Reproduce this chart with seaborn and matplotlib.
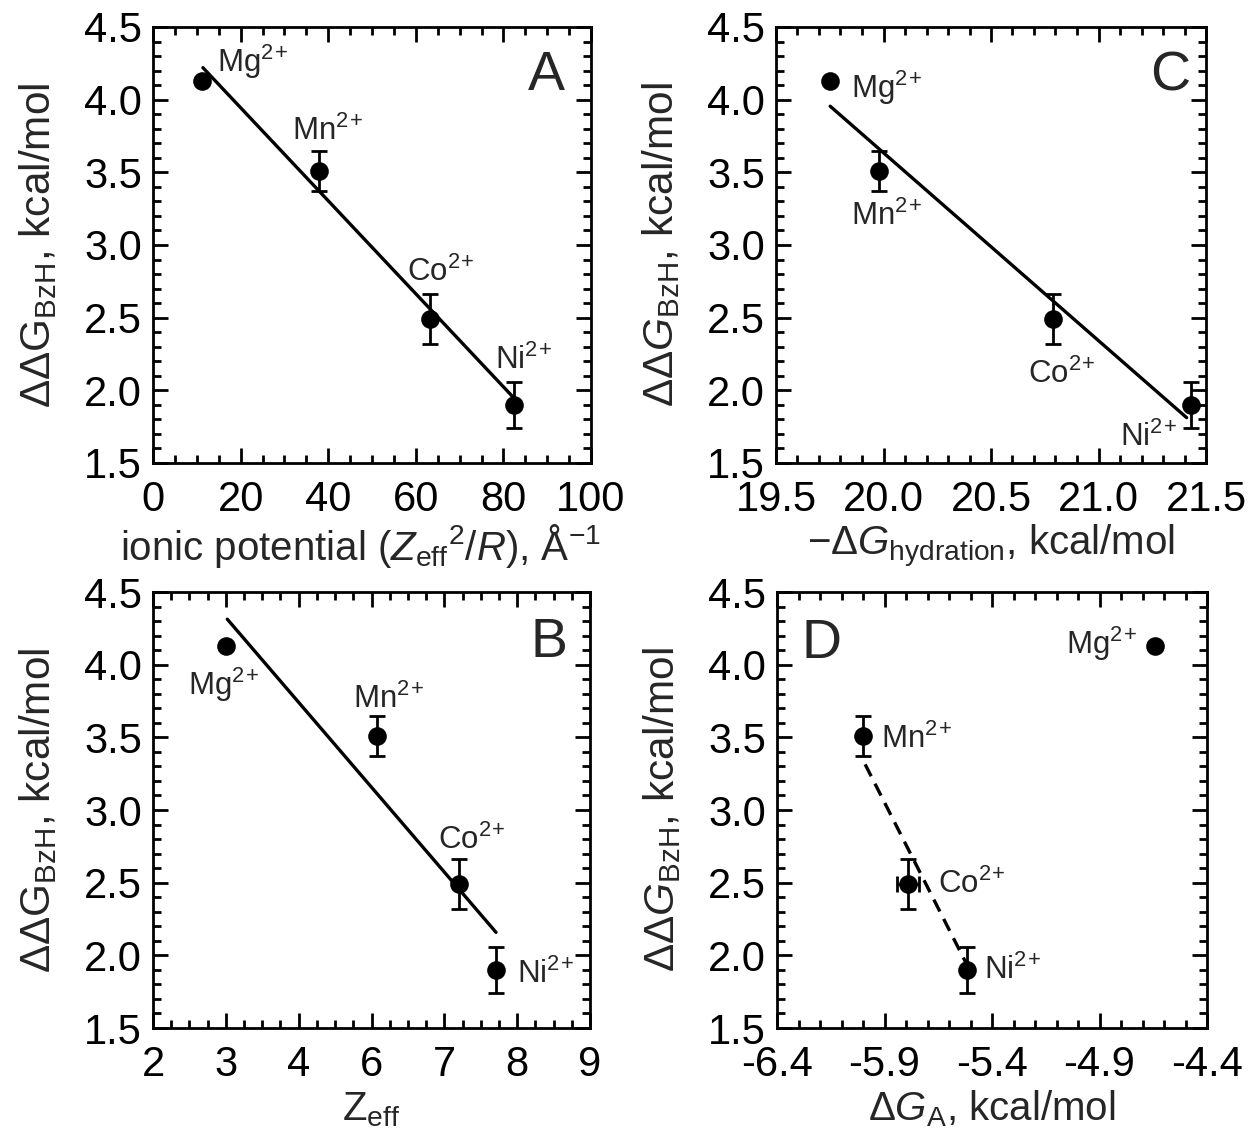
import numpy as np
import pandas as pd
import matplotlib
matplotlib.use("Agg")
import matplotlib.pyplot as plt
from matplotlib.ticker import MultipleLocator, FormatStrFormatter, FixedLocator, FixedFormatter
import seaborn as sns

sns.set_theme(style="ticks")
plt.rcParams["font.family"] = ["Liberation Sans", "DejaVu Sans"]
plt.rcParams["mathtext.fontset"] = "custom"
plt.rcParams["mathtext.rm"] = "Liberation Sans"
plt.rcParams["mathtext.it"] = "Liberation Sans:italic"
plt.rcParams["mathtext.bf"] = "Liberation Sans:bold"
plt.rcParams["axes.unicode_minus"] = False

# ---- data -------------------------------------------------------------
ions = ["Mg", "Mn", "Co", "Ni"]
ddg_bzh = [4.13, 3.51, 2.49, 1.90]          # kcal/mol
ddg_err = [0.02, 0.135, 0.17, 0.16]

ionic_potential = [11.2, 37.8, 63.2, 82.4]   # Zeff^2/R, 1/Å
zeff = [3.0, 6.08, 7.2, 7.71]
neg_dg_hydration = [19.75, 19.98, 20.79, 21.43]
dg_a = [-4.64, -6.0, -5.79, -5.515]
dg_a_err = [0.0, 0.0, 0.05, 0.0]

# fitted lines (end points)
fit_a_x, fit_a_y = [11.4, 82.1], [4.22, 1.957]
fit_b_x, fit_b_y = [3.02, 7.71], [4.313, 2.158]
fit_c_x, fit_c_y = [19.752, 21.41], [3.955, 1.812]
fit_d_x, fit_d_y = [-5.99, -5.52], [3.314, 1.945]

zeff_tick_labels = [2, 3, 4, 6, 7, 8, 9]

# ion label placement (x, y baseline, alignment) per panel
labels_a = [(14.6, 4.19, "left"), (31.7, 3.72, "left"), (57.9, 2.75, "left"), (78.1, 2.15, "left")]
labels_b = [(2.48, 3.79, "left"), (5.48, 3.70, "left"), (6.91, 2.73, "left"), (7.995, 1.81, "left")]
labels_c = [(19.85, 4.01, "left"), (19.85, 3.14, "left"), (20.672, 2.052, "left"), (21.10, 1.62, "left")]
labels_d = [(-4.728, 4.076, "right"), (-5.916, 3.428, "left"), (-5.649, 2.43, "left"), (-5.437, 1.835, "left")]

# ---- figure -----------------------------------------------------------
W, H = 1250, 1138
fig = plt.figure(figsize=(W / 100, H / 100), dpi=100)


def px_axes(left, top, right, bottom):
    return fig.add_axes([left / W, 1 - bottom / H, (right - left) / W, (bottom - top) / H])


TICK_FS = 30
LABEL_FS = 29
YLABEL_FS = 30.5
ION_FS = 22.5
LETTER_FS = 40
AX_HEIGHT_PX = 436


def style_axes(ax):
    ax.set_ylim(1.5, 4.5)
    ax.yaxis.set_major_locator(MultipleLocator(0.5))
    ax.yaxis.set_minor_locator(MultipleLocator(0.1))
    ax.yaxis.set_major_formatter(FormatStrFormatter("%.1f"))
    ax.tick_params(which="both", direction="in", top=True, right=True,
                   width=2, colors="black", labelsize=TICK_FS)
    ax.tick_params(axis="y", which="both", pad=8)
    ax.tick_params(axis="x", which="both", pad=12)
    ax.tick_params(which="major", length=11)
    ax.tick_params(which="minor", length=6)
    for s in ax.spines.values():
        s.set_linewidth(2)
        s.set_color("black")
    ax.set_facecolor("white")


def set_labels(ax, xlabel, ylabel, xcenter=0.5, drop_px=92):
    # x label: baseline placed drop_px pixels below the x axis
    ax.set_xlabel(xlabel, fontsize=LABEL_FS)
    ax.xaxis.label.set_verticalalignment("baseline")
    ax.xaxis.set_label_coords(xcenter, -drop_px / AX_HEIGHT_PX)
    ax.set_ylabel(ylabel, fontsize=YLABEL_FS, labelpad=18)


def draw_points(ax, x, xerr=None):
    df = pd.DataFrame({"x": x, "y": ddg_bzh})
    ax.errorbar(x, ddg_bzh, yerr=ddg_err, xerr=xerr, fmt="none", ecolor="black",
                elinewidth=2, capsize=5.5, capthick=2, zorder=3)
    sns.scatterplot(data=df, x="x", y="y", ax=ax, color="black", s=180,
                    edgecolor="black", linewidth=0, zorder=4, legend=False)
    ax.set_xlabel("")
    ax.set_ylabel("")


def draw_fit(ax, fx, fy, dashed=False):
    df = pd.DataFrame({"x": fx, "y": fy})
    sns.lineplot(data=df, x="x", y="y", ax=ax, color="black", linewidth=2.4,
                 linestyle=(0, (4, 2.5)) if dashed else "-", zorder=2, legend=False)
    ax.set_xlabel("")
    ax.set_ylabel("")


def ion_labels(ax, spec):
    for name, (x, y, ha) in zip(ions, spec):
        ax.text(x, y, name + r"$^{2}$$^{+}$", fontsize=ION_FS, ha=ha, va="baseline")


ylab_up = r"$\Delta\Delta\mathrm{G}_{\mathrm{BzH}}$, kcal/mol"
ylab_it = r"$\Delta\Delta G_{\mathrm{BzH}}$, kcal/mol"

# Panel A: ionic potential
axA = px_axes(153, 27, 591, 463)
style_axes(axA)
draw_fit(axA, fit_a_x, fit_a_y)
draw_points(axA, ionic_potential)
axA.set_xlim(0, 100)
axA.xaxis.set_major_locator(MultipleLocator(20))
axA.xaxis.set_minor_locator(MultipleLocator(5))
ion_labels(axA, labels_a)
axA.text(85.5, 4.065, "A", fontsize=LETTER_FS, ha="left", va="baseline")
set_labels(axA, r"ionic potential ($Z_{\mathrm{eff}}{}^{2}/R$), Å$^{-1}$", ylab_up,
           xcenter=0.473, drop_px=97)

# Panel C: hydration free energy
axC = px_axes(776, 27, 1206, 463)
style_axes(axC)
draw_fit(axC, fit_c_x, fit_c_y)
draw_points(axC, neg_dg_hydration)
axC.set_xlim(19.5, 21.5)
axC.xaxis.set_major_locator(MultipleLocator(0.5))
axC.xaxis.set_minor_locator(MultipleLocator(0.1))
axC.xaxis.set_major_formatter(FormatStrFormatter("%.1f"))
ion_labels(axC, labels_c)
axC.text(21.24, 4.065, "C", fontsize=LETTER_FS, ha="left", va="baseline")
set_labels(axC, r"$-\Delta G_{\mathrm{hydration}}$, kcal/mol", ylab_it)

# Panel B: effective nuclear charge (tick labels placed on an even grid)
tick_pos = np.arange(len(zeff_tick_labels))
to_pos = lambda v: np.interp(v, zeff_tick_labels, tick_pos)
axB = px_axes(153, 592, 590, 1028)
style_axes(axB)
draw_fit(axB, to_pos(fit_b_x), fit_b_y)
draw_points(axB, to_pos(zeff))
axB.set_xlim(tick_pos[0], tick_pos[-1])
axB.xaxis.set_major_locator(FixedLocator(tick_pos))
axB.xaxis.set_major_formatter(FixedFormatter([str(t) for t in zeff_tick_labels]))
axB.xaxis.set_minor_locator(MultipleLocator(0.25))
ion_labels(axB, [(to_pos(x), y, ha) for x, y, ha in labels_b])
axB.text(5.18, 4.05, "B", fontsize=LETTER_FS, ha="left", va="baseline")
set_labels(axB, r"$\mathrm{Z}_{\mathrm{eff}}$", ylab_up)

# Panel D: binding free energy
d_ticks = [-6.4, -5.9, -5.4, -4.9, -4.4]
axD = px_axes(777, 592, 1207, 1028)
style_axes(axD)
draw_fit(axD, fit_d_x, fit_d_y, dashed=True)
draw_points(axD, dg_a, xerr=dg_a_err)
axD.set_xlim(d_ticks[0], d_ticks[-1])
axD.set_xticks(d_ticks)
axD.set_xticks(np.round(np.arange(-6.4, -4.35, 0.1), 2), minor=True)
axD.xaxis.set_major_formatter(FormatStrFormatter("%.1f"))
ion_labels(axD, labels_d)
axD.text(-6.284, 4.047, "D", fontsize=LETTER_FS, ha="left", va="baseline")
set_labels(axD, r"$\Delta G_{\mathrm{A}}$, kcal/mol", ylab_it)

fig.savefig("out.png", dpi=100, facecolor="white")
